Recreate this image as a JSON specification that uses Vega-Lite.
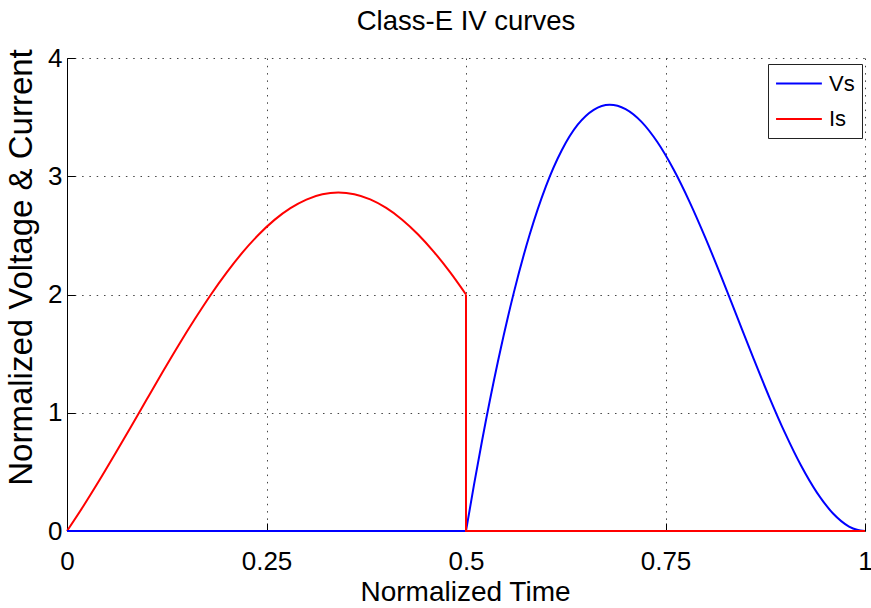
{
  "$schema": "https://vega.github.io/schema/vega-lite/v6.json",
  "width": 798,
  "height": 473,
  "autosize": {"type": "none"},
  "padding": {"left": 67, "top": 58, "right": 6, "bottom": 77},
  "background": "white",
  "config": {
    "view": {"stroke": null},
    "font": "Liberation Sans"
  },
  "title": {
    "text": "Class-E IV curves",
    "fontSize": 27.5,
    "fontWeight": "normal",
    "font": "Liberation Sans",
    "color": "#000",
    "baseline": "alphabetic",
    "frame": "group",
    "offset": -12,
    "anchor": "middle"
  },
  "data": {
    "values": [
      {"t": 0, "y": 0, "s": "Vs", "k": "flat", "i": 0},
      {"t": 0.5, "y": 0, "s": "Vs", "k": "flat", "i": 1},
      {"t": 0.5, "y": 0, "s": "Vs", "k": "curve", "i": 1},
      {"t": 0.51, "y": 0.39, "s": "Vs", "k": "curve", "i": 2},
      {"t": 0.52, "y": 0.759, "s": "Vs", "k": "curve", "i": 3},
      {"t": 0.54, "y": 1.433, "s": "Vs", "k": "curve", "i": 4},
      {"t": 0.56, "y": 2.018, "s": "Vs", "k": "curve", "i": 5},
      {"t": 0.58, "y": 2.512, "s": "Vs", "k": "curve", "i": 6},
      {"t": 0.6, "y": 2.913, "s": "Vs", "k": "curve", "i": 7},
      {"t": 0.62, "y": 3.22, "s": "Vs", "k": "curve", "i": 8},
      {"t": 0.64, "y": 3.436, "s": "Vs", "k": "curve", "i": 9},
      {"t": 0.66, "y": 3.562, "s": "Vs", "k": "curve", "i": 10},
      {"t": 0.68, "y": 3.605, "s": "Vs", "k": "curve", "i": 11},
      {"t": 0.7, "y": 3.568, "s": "Vs", "k": "curve", "i": 12},
      {"t": 0.72, "y": 3.46, "s": "Vs", "k": "curve", "i": 13},
      {"t": 0.74, "y": 3.287, "s": "Vs", "k": "curve", "i": 14},
      {"t": 0.76, "y": 3.059, "s": "Vs", "k": "curve", "i": 15},
      {"t": 0.78, "y": 2.786, "s": "Vs", "k": "curve", "i": 16},
      {"t": 0.8, "y": 2.479, "s": "Vs", "k": "curve", "i": 17},
      {"t": 0.82, "y": 2.149, "s": "Vs", "k": "curve", "i": 18},
      {"t": 0.84, "y": 1.806, "s": "Vs", "k": "curve", "i": 19},
      {"t": 0.86, "y": 1.464, "s": "Vs", "k": "curve", "i": 20},
      {"t": 0.88, "y": 1.133, "s": "Vs", "k": "curve", "i": 21},
      {"t": 0.9, "y": 0.825, "s": "Vs", "k": "curve", "i": 22},
      {"t": 0.92, "y": 0.551, "s": "Vs", "k": "curve", "i": 23},
      {"t": 0.94, "y": 0.322, "s": "Vs", "k": "curve", "i": 24},
      {"t": 0.96, "y": 0.148, "s": "Vs", "k": "curve", "i": 25},
      {"t": 0.98, "y": 0.038, "s": "Vs", "k": "curve", "i": 26},
      {"t": 0.99, "y": 0.01, "s": "Vs", "k": "curve", "i": 27},
      {"t": 1, "y": 0, "s": "Vs", "k": "curve", "i": 28},
      {"t": 0, "y": 0, "s": "Is", "k": "curve", "i": 0},
      {"t": 0.02, "y": 0.205, "s": "Is", "k": "curve", "i": 1},
      {"t": 0.04, "y": 0.422, "s": "Is", "k": "curve", "i": 2},
      {"t": 0.06, "y": 0.649, "s": "Is", "k": "curve", "i": 3},
      {"t": 0.08, "y": 0.88, "s": "Is", "k": "curve", "i": 4},
      {"t": 0.1, "y": 1.114, "s": "Is", "k": "curve", "i": 5},
      {"t": 0.12, "y": 1.346, "s": "Is", "k": "curve", "i": 6},
      {"t": 0.14, "y": 1.573, "s": "Is", "k": "curve", "i": 7},
      {"t": 0.16, "y": 1.79, "s": "Is", "k": "curve", "i": 8},
      {"t": 0.18, "y": 1.996, "s": "Is", "k": "curve", "i": 9},
      {"t": 0.2, "y": 2.185, "s": "Is", "k": "curve", "i": 10},
      {"t": 0.22, "y": 2.356, "s": "Is", "k": "curve", "i": 11},
      {"t": 0.24, "y": 2.505, "s": "Is", "k": "curve", "i": 12},
      {"t": 0.26, "y": 2.631, "s": "Is", "k": "curve", "i": 13},
      {"t": 0.28, "y": 2.73, "s": "Is", "k": "curve", "i": 14},
      {"t": 0.3, "y": 2.803, "s": "Is", "k": "curve", "i": 15},
      {"t": 0.32, "y": 2.847, "s": "Is", "k": "curve", "i": 16},
      {"t": 0.34, "y": 2.862, "s": "Is", "k": "curve", "i": 17},
      {"t": 0.36, "y": 2.848, "s": "Is", "k": "curve", "i": 18},
      {"t": 0.38, "y": 2.804, "s": "Is", "k": "curve", "i": 19},
      {"t": 0.4, "y": 2.732, "s": "Is", "k": "curve", "i": 20},
      {"t": 0.42, "y": 2.633, "s": "Is", "k": "curve", "i": 21},
      {"t": 0.44, "y": 2.508, "s": "Is", "k": "curve", "i": 22},
      {"t": 0.46, "y": 2.359, "s": "Is", "k": "curve", "i": 23},
      {"t": 0.48, "y": 2.189, "s": "Is", "k": "curve", "i": 24},
      {"t": 0.5, "y": 2.0, "s": "Is", "k": "curve", "i": 25},
      {"t": 0.5, "y": 2.0, "s": "Is", "k": "flat", "i": 25},
      {"t": 0.5, "y": 0, "s": "Is", "k": "flat", "i": 26},
      {"t": 1, "y": 0, "s": "Is", "k": "flat", "i": 27}
    ]
  },
  "encoding": {
    "x": {
      "field": "t",
      "type": "quantitative",
      "scale": {"domain": [0, 1], "nice": false, "zero": false},
      "axis": {
        "title": "Normalized Time",
        "values": [0, 0.25, 0.5, 0.75, 1],
        "labelExpr": "'' + datum.value",
        "labelFontSize": 26,
        "labelColor": "#000",
        "labelPadding": 25,
        "labelFlush": false,
        "ticks": true,
        "tickSize": -8,
        "tickColor": "#000",
        "tickWidth": 1,
        "domainColor": "#000",
        "domainWidth": 1,
        "grid": true,
        "gridColor": "#444",
        "gridDash": [1.5, 5.8],
        "gridWidth": 1,
        "titleFontSize": 28,
        "titleFontWeight": "normal",
        "titleColor": "#000",
        "titleBaseline": "alphabetic",
        "titleAlign": "center",
        "titleX": 398,
        "titleY": 69
      }
    },
    "y": {
      "field": "y",
      "type": "quantitative",
      "scale": {"domain": [0, 4], "nice": false},
      "axis": {
        "title": "Normalized Voltage & Current",
        "values": [0, 1, 2, 3, 4],
        "format": "d",
        "labelFontSize": 26,
        "labelColor": "#000",
        "labelPadding": 13,
        "labelFlush": false,
        "ticks": true,
        "tickSize": -8,
        "tickColor": "#000",
        "tickWidth": 1,
        "domainColor": "#000",
        "domainWidth": 1,
        "grid": true,
        "gridColor": "#444",
        "gridDash": [1.5, 5.8],
        "gridWidth": 1,
        "titleFontSize": 33,
        "titleFontWeight": "normal",
        "titleColor": "#000",
        "titleAngle": -90,
        "titleBaseline": "alphabetic",
        "titleAlign": "center",
        "titleX": -36,
        "titleY": 209
      }
    },
    "color": {
      "field": "s",
      "type": "nominal",
      "scale": {"domain": ["Vs", "Is"], "range": ["#0000FF", "#FF0000"]},
      "legend": {
        "title": null,
        "orient": "none",
        "legendX": 701,
        "legendY": 6,
        "symbolType": "M-1,0H3",
        "symbolSize": 525,
        "symbolStrokeWidth": 2,
        "symbolFillColor": "transparent",
        "labelFontSize": 22,
        "labelColor": "#000",
        "labelOffset": 29,
        "rowPadding": 11.6,
        "padding": 7,
        "strokeColor": "#222",
        "fillColor": "white"
      }
    },
    "detail": {"field": "k"},
    "order": {"field": "i", "type": "quantitative"}
  },
  "layer": [
    {
      "transform": [{"filter": "datum.k == 'curve'"}],
      "mark": {"type": "line", "strokeWidth": 2, "clip": false, "interpolate": "monotone"}
    },
    {
      "transform": [{"filter": "datum.k == 'flat'"}],
      "mark": {"type": "line", "strokeWidth": 2, "clip": false, "interpolate": "linear"}
    }
  ]
}
